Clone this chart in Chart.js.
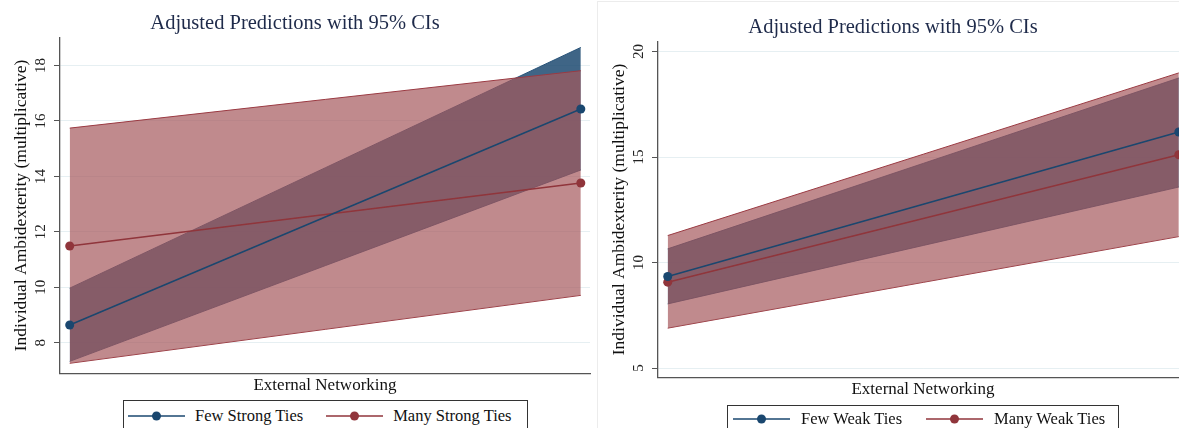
<!DOCTYPE html>
<html>
<head>
<meta charset="utf-8">
<script src="https://cdn.jsdelivr.net/npm/chart.js@4.4.1/dist/chart.umd.min.js"></script>
<style>
  html, body { margin: 0; padding: 0; background: #fff; }
  body { width: 1179px; height: 428px; overflow: hidden; position: relative; font-family: 'Liberation Serif', 'Times New Roman', serif; }
  canvas { position: absolute; }
  #leftChart { left: 0; top: 0; }
  #rightChart { left: 598px; top: 4px; }
  .frame { position: absolute; left: 597px; top: 1px; width: 640px; height: 460px; border-left: 1px solid #ececec; border-top: 1px solid #ececec; }
  .legend { position: absolute; height: 40px; border: 1px solid #333; box-sizing: border-box; display: flex; align-items: flex-start; background: #fff; color: #111; font-size: 16.5px; line-height: 18px; white-space: nowrap; }
  .legend .item { display: flex; align-items: center; }
  .legend svg { display: block; }
  #leftLegend { left: 123px; top: 400px; width: 405px; padding: 6px 0 0 4px; }
  #leftLegend .item + .item { margin-left: 23px; }
  #leftLegend .sym { margin-right: 10px; }
  #rightLegend { left: 727px; top: 405px; width: 392px; padding: 4px 0 0 5px; }
  #rightLegend .item + .item { margin-left: 24px; }
  #rightLegend .sym { margin-right: 11px; }
</style>
</head>
<body>
<div class="frame"></div>
<canvas id="leftChart" width="606" height="428"></canvas>
<canvas id="rightChart" width="607" height="428"></canvas>
<div class="legend" id="leftLegend"></div>
<div class="legend" id="rightLegend"></div>

<script>
// x 위치 (external networking: low / high)
const xLevels = [0, 1];

// 왼쪽 패널: strong ties
const fewStrong = [8.64, 16.43];
const fewStrongLo = [7.33, 14.23];
const fewStrongHi = [9.97, 18.65];
const manyStrong = [11.49, 13.76];
const manyStrongLo = [7.26, 9.71];
const manyStrongHi = [15.74, 17.81];
const leftTicks = [8, 10, 12, 14, 16, 18];

// 오른쪽 패널: weak ties
const fewWeak = [9.34, 16.19];
const fewWeakLo = [8.04, 13.58];
const fewWeakHi = [10.65, 18.75];
const manyWeak = [9.07, 15.11];
const manyWeakLo = [6.89, 11.23];
const manyWeakHi = [11.28, 18.99];
const rightTicks = [5, 10, 15, 20];

const BLUE = '#1a476f';
const RED = '#90353b';
const BLUE_FILL = 'rgba(26,71,111,0.84)';
const RED_FILL = 'rgba(165,89,92,0.70)';

Chart.defaults.font.family = "'Liberation Serif', 'Times New Roman', serif";

const pts = vals => xLevels.map((x, i) => ({ x, y: vals[i] }));

function lineSet(label, vals, color) {
  return {
    label, data: pts(vals), borderColor: color, backgroundColor: color,
    borderWidth: 1.5, pointRadius: 4.5, pointBorderWidth: 0, pointBackgroundColor: color, fill: false
  };
}

function bandSets(hi, lo, fillColor, edgeColor) {
  return [
    { label: 'hi', data: pts(hi), fill: '+1', backgroundColor: fillColor, borderColor: edgeColor, borderWidth: 1, pointRadius: 0 },
    { label: 'lo', data: pts(lo), fill: false, borderColor: edgeColor, borderWidth: 1, pointRadius: 0 }
  ];
}

function makePanel(id, opt) {
  return new Chart(document.getElementById(id), {
    type: 'line',
    data: {
      datasets: [
        lineSet(opt.names[0], opt.few, BLUE),
        lineSet(opt.names[1], opt.many, RED),
        ...bandSets(opt.manyHi, opt.manyLo, RED_FILL, '#9a3a42'),
        ...bandSets(opt.fewHi, opt.fewLo, BLUE_FILL, 'rgba(26,71,111,0.9)')
      ]
    },
    options: {
      responsive: false,
      animation: false,
      layout: { padding: { left: 0, right: opt.padRight, top: 0, bottom: 31.8 } },
      plugins: {
        legend: { display: false },
        tooltip: { enabled: false },
        title: {
          display: true,
          text: 'Adjusted Predictions with 95% CIs',
          color: '#1e2a4a',
          font: { size: 20.5, weight: 'normal' },
          padding: { top: 11.5, bottom: 1.6 }
        }
      },
      scales: {
        x: {
          type: 'linear', min: -0.019, max: 1.018,
          ticks: { display: false },
          grid: { display: false, drawTicks: false },
          border: { display: true, color: '#555', width: 1.3 },
          title: { display: true, text: 'External Networking', color: '#111', font: { size: 17 }, padding: { top: 2.5, bottom: 0 } }
        },
        y: {
          min: opt.yMin, max: opt.yMax,
          afterBuildTicks: s => { s.ticks = opt.ticks.map(v => ({ value: v })); },
          afterFit: s => { s.width = 60; },
          ticks: { minRotation: 90, maxRotation: 90, crossAlign: 'center', padding: 5, color: '#222', font: { size: 15 } },
          grid: { color: '#e6eff2', tickColor: '#555', tickLength: 6, lineWidth: 1 },
          border: { color: '#555', width: 1.3 },
          title: { display: true, text: 'Individual Ambidexterity (multiplicative)', color: '#111', font: { size: 17.5 }, padding: { top: 10.5, bottom: 0 } }
        }
      }
    }
  });
}

makePanel('leftChart', {
  names: ['Few Strong Ties', 'Many Strong Ties'],
  few: fewStrong, fewLo: fewStrongLo, fewHi: fewStrongHi,
  many: manyStrong, manyLo: manyStrongLo, manyHi: manyStrongHi,
  ticks: leftTicks, yMin: 6.9, yMax: 19.0, padRight: 16
});

makePanel('rightChart', {
  names: ['Few Weak Ties', 'Many Weak Ties'],
  few: fewWeak, fewLo: fewWeakLo, fewHi: fewWeakHi,
  many: manyWeak, manyLo: manyWeakLo, manyHi: manyWeakHi,
  ticks: rightTicks, yMin: 4.56, yMax: 20.47, padRight: 17
});

// 범례 (선 + 점 기호)
function symbol(color) {
  return `<svg class="sym" width="57" height="12"><line x1="0" y1="6" x2="57" y2="6" stroke="${color}" stroke-width="1.5"/><circle cx="28.5" cy="6" r="4.5" fill="${color}"/></svg>`;
}
function buildLegend(id, names) {
  document.getElementById(id).innerHTML = names.map((n, i) =>
    `<div class="item">${symbol(i === 0 ? BLUE : RED)}<span>${n}</span></div>`
  ).join('');
}
buildLegend('leftLegend', ['Few Strong Ties', 'Many Strong Ties']);
buildLegend('rightLegend', ['Few Weak Ties', 'Many Weak Ties']);
</script>
</body>
</html>
